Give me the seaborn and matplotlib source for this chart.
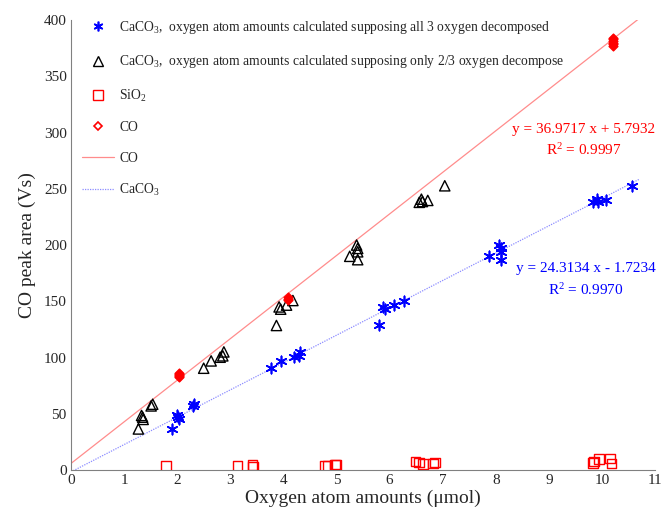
import numpy as np
import pandas as pd
import matplotlib
matplotlib.use("Agg")
import matplotlib.pyplot as plt
from matplotlib.lines import Line2D
import seaborn as sns

# ---- data ----
star_x = [1.91, 2.00, 2.04, 2.02, 2.29, 2.32, 3.77, 3.96, 4.21, 4.29, 4.32,
          5.80, 5.88, 5.92, 6.09, 6.27, 7.87, 8.07, 8.10, 8.10, 8.10,
          9.84, 9.90, 9.93, 10.08, 10.56]
star_y = [36.5, 48.5, 45.0, 47.0, 57.0, 58.5, 90.5, 97.0, 100.3, 101.5, 105.0,
          128.5, 145.0, 143.0, 146.6, 150.7, 190.0, 200.0, 197.0, 194.0, 187.0,
          238.0, 240.8, 238.7, 239.7, 252.7]
tri_x = [1.27, 1.33, 1.36, 1.35, 1.51, 1.54, 2.50, 2.64, 2.81, 2.86, 2.88,
         3.87, 3.92, 3.95, 4.06, 4.18, 5.25, 5.38, 5.40, 5.40, 5.40,
         6.56, 6.60, 6.62, 6.72, 7.04]
tri_y = star_y
sio2_x = [1.79, 3.14, 3.42, 3.43, 4.79, 4.83, 4.97, 4.99,
          6.49, 6.55, 6.63, 6.82, 6.86, 9.83, 9.85, 9.95, 10.15, 10.18]
sio2_y = [3.3, 3.6, 4.5, 3.2, 3.6, 3.6, 5.0, 4.5,
          7.4, 6.8, 5.3, 5.9, 6.8, 6.5, 7.4, 9.8, 10.4, 5.9]
co_x = [2.03, 2.03, 2.03, 2.03, 2.03, 4.08, 4.08, 4.08,
        10.2, 10.2, 10.2, 10.2, 10.2, 10.2]
co_y = [82.5, 83.5, 84.5, 85.5, 86.5, 151.0, 152.3, 153.5,
        377.0, 378.5, 380.0, 381.5, 383.0, 384.5]
co_fit = (36.9717, 5.7932, 0.9997)
caco3_fit = (24.3134, -1.7234, 0.9970)
fit_range = (0.0, 10.7)
x_ticks = list(range(0, 12))
y_ticks = list(range(0, 401, 50))

sns.set_style("white")
plt.rcParams["font.family"] = ["Liberation Serif", "DejaVu Serif"]
plt.rcParams["mathtext.fontset"] = "custom"
plt.rcParams["mathtext.rm"] = "Liberation Serif"
plt.rcParams["mathtext.it"] = "Liberation Serif:italic"

fig = plt.figure(figsize=(6.63, 5.13), dpi=100)
ax = fig.add_axes([0.107, 0.0838, 0.881, 0.877])

fx = np.array(fit_range)
ax.plot(fx, co_fit[0] * fx + co_fit[1], color="#ff8c8c", lw=0.9, zorder=1)
ax.plot(fx, caco3_fit[0] * fx + caco3_fit[1], color="#8c8cff", lw=0.9,
        ls=(0, (1, 1)), zorder=1)

asterisk = (6, 2, 0)
sns.scatterplot(x=star_x, y=star_y, ax=ax, marker=asterisk, s=55,
                color="#0000ff", linewidth=1.2, zorder=3)
sns.scatterplot(x=tri_x, y=tri_y, ax=ax, marker="^", s=55,
                facecolor="none", edgecolor="black", linewidth=1.0, zorder=3)
sns.scatterplot(x=sio2_x, y=sio2_y, ax=ax, marker="s", s=48,
                facecolor="none", edgecolor="#ff0000", linewidth=1.0, zorder=3)
sns.scatterplot(x=co_x, y=co_y, ax=ax, marker="D", s=20,
                facecolor="#ff0000", edgecolor="#ff0000", linewidth=1.0, zorder=4)

ax.set_xlim(0, 11)
ax.set_ylim(0, 400)
ax.set_xticks(x_ticks)
ax.set_yticks(y_ticks)
ax.tick_params(direction="in", length=4, color="#808080", labelsize=11, pad=3)
for s in ["top", "right"]:
    ax.spines[s].set_visible(False)
for s in ["left", "bottom"]:
    ax.spines[s].set_color("#808080")
    ax.spines[s].set_linewidth(0.8)

ax.set_xlabel("Oxygen atom amounts (\u03bcmol)", fontsize=14, labelpad=2)
ax.set_ylabel("CO peak area (Vs)", fontsize=14, labelpad=6)

ax.text(9.66, 302.5, f"y = {co_fit[0]:.4f} x + {co_fit[1]:.4f}", color="#ff0000",
        fontsize=11, ha="center", va="center")
ax.text(9.66, 284.5, f"R$^2$ = {co_fit[2]:.4f}", color="#ff0000",
        fontsize=11, ha="center", va="center")
ax.text(9.69, 179.4, f"y = {caco3_fit[0]:.4f} x - {abs(caco3_fit[1]):.4f}",
        color="#0000ff", fontsize=11, ha="center", va="center")
ax.text(9.69, 160, f"R$^2$ = {caco3_fit[2]:.4f}", color="#0000ff",
        fontsize=11, ha="center", va="center")

handles = [
    Line2D([], [], ls="none", marker=asterisk, ms=7, mec="#0000ff", mew=1.2),
    Line2D([], [], ls="none", marker="^", ms=7, mfc="none", mec="black", mew=1.0),
    Line2D([], [], ls="none", marker="s", ms=6.5, mfc="none", mec="#ff0000", mew=1.0),
    Line2D([], [], ls="none", marker="D", ms=4, mfc="none", mec="#ff0000", mew=1.2),
    Line2D([], [], color="#ff8c8c", lw=0.9),
    Line2D([], [], color="#8c8cff", lw=0.9, ls=(0, (1, 1))),
]
labels = [
    "CaCO$_3$,  oxygen atom amounts calculated supposing all 3 oxygen decomposed",
    "CaCO$_3$,  oxygen atom amounts calculated supposing only 2/3 oxygen decompose",
    "SiO$_2$",
    "CO",
    "CO",
    "CaCO$_3$",
]
ax.legend(handles, labels, loc="upper left", bbox_to_anchor=(0.0, 1.027),
          frameon=False, fontsize=9.8, labelspacing=1.28, handlelength=2.4,
          handletextpad=0.35, borderaxespad=0.2, borderpad=0.6)

fig.savefig("out.png", dpi=100)
